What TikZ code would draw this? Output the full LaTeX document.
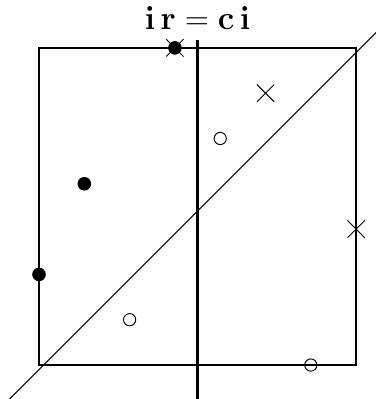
\documentclass[tikz,border=0pt]{standalone}
\usepackage{amsmath,amssymb}
\usepackage{xcolor}
\usepackage{tikz}
\usetikzlibrary{shapes,arrows,positioning,calc}

\begin{document}
\begin{tikzpicture}[
    full/.style={circle, fill=black, inner sep=0pt, minimum size=0.3cm},
    hollow/.style={circle, draw, line width=0.6pt, inner sep=0pt, minimum size=0.27cm},
    xcross/.style={cross out, draw, line width=0.6pt, inner sep=0pt, minimum size=0.36cm},
    frame/.style={line width=1.4pt}
]
    \useasboundingbox (-0.861,-0.75) rectangle (7.417,8.057);
    % the square and the two lines
    \coordinate (sw) at (0,0);
    \coordinate (ne) at (7,7);
    \draw[frame] (sw) rectangle (ne);
    \coordinate (vtop) at (3.5,7.18);
    \coordinate (vbot) at (3.5,-0.8);
    \draw[frame] (vtop) -- (vbot);
    \coordinate (dlo) at (-0.7,-0.8);
    \coordinate (dhi) at (7.5,7.4);
    \draw[line width=0.7pt] (dlo) -- (dhi);
    \node[font=\huge] (title) at (3.5,7.66) {$\mathbf{i\,r = c\,i}$};

    % the points
    \node[full] (p0) at (3,7) {};
    \node[xcross] (q0) at (3,7) {};
    \node[xcross] (q1) at (5,6) {};
    \node[hollow] (o1) at (4,5) {};
    \node[full] (p1) at (1,4) {};
    \node[xcross] (q2) at (7,3) {};
    \node[full] (p2) at (0,2) {};
    \node[hollow] (o2) at (2,1) {};
    \node[hollow] (o3) at (6,0) {};
\end{tikzpicture}
\end{document}
